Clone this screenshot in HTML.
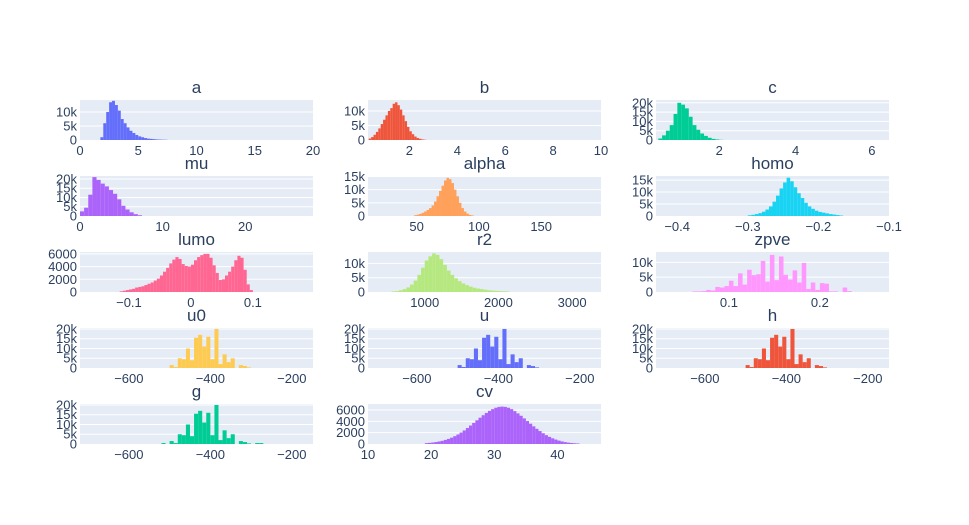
<!DOCTYPE html>
<html><head><meta charset="utf-8">
<style>
html,body{margin:0;padding:0;background:#fff;}
svg{display:block;font-family:"Liberation Sans","DejaVu Sans",sans-serif;}
</style></head>
<body>
<svg id="chart" width="969" height="525" viewBox="0 0 969 525" xmlns="http://www.w3.org/2000/svg"></svg>
<script>
// ---- data (one small array set per subplot) ----
const titles = ["a","b","c","mu","alpha","homo","lumo","r2","zpve","u0","u","h","g","cv"];
const colors = ["#636efa","#EF553B","#00cc96","#ab63fa","#FFA15A","#19d3f3","#FF6692","#B6E880","#FF97FF","#FECB52","#636efa","#EF553B","#00cc96","#ab63fa"];
const binStarts = [1.75,0.3,0.4,0,48,-0.3,-0.115,550,0.06,-500,-500,-500,-520,19];
const binWidths = [0.25,0.1,0.1,0.5,2,0.005,0.005,50,0.005,10,10,10,10,0.5];
const xRanges = [[0,20],[0.27,10],[0.34,6.45],[0,28.2],[11,198],[-0.43,-0.1],[-0.179,0.197],[230,3392],[0.0198,0.276],[-720,-148],[-720,-148],[-720,-148],[-720,-148],[10,46.9]];
const yMaxes = [14300,13800,21500,21600,15200,16700,6300,14000,13500,20500,20500,20500,20500,7060];
const xTicks = [[0,5,10,15,20],[2,4,6,8,10],[2,4,6],[0,10,20],[50,100,150],[-0.4,-0.3,-0.2,-0.1],[-0.1,0,0.1],[1000,2000,3000],[0.1,0.2],[-600,-400,-200],[-600,-400,-200],[-600,-400,-200],[-600,-400,-200],[10,20,30,40]];
const xTickLabels = [["0","5","10","15","20"],["2","4","6","8","10"],["2","4","6"],["0","10","20"],["50","100","150"],["−0.4","−0.3","−0.2","−0.1"],["−0.1","0","0.1"],["1000","2000","3000"],["0.1","0.2"],["−600","−400","−200"],["−600","−400","−200"],["−600","−400","−200"],["−600","−400","−200"],["10","20","30","40"]];
const yTicks5k = [0,5000,10000];
const yTicks20k = [0,5000,10000,15000,20000];
const yTicks15k = [0,5000,10000,15000];
const yTicks6000 = [0,2000,4000,6000];
const yTickSets = [yTicks5k,yTicks5k,yTicks20k,yTicks20k,yTicks15k,yTicks15k,yTicks6000,yTicks5k,yTicks5k,yTicks20k,yTicks20k,yTicks20k,yTicks20k,yTicks6000];

const countsA = [1000,6000,10000,13500,14000,12500,10500,7500,6000,4500,3300,2500,1800,1300,1000,700,500,400,300,200,150,100,80];
const countsB = [500,1000,1800,2800,4000,5500,7000,8500,10000,11000,12500,13000,12000,10500,8500,6500,4500,3000,2000,1200,700,400,200,100];
const countsC = [800,2500,5000,8000,14000,20000,19000,17000,12500,8000,5500,3500,2200,1200,600,300,100];
const countsMu = [2500,4500,11500,21000,19500,17500,16000,14000,12000,9000,5500,3500,2000,1000,400];
const countsAlpha = [300,500,800,1200,1700,2300,3000,4000,5500,7500,9500,11500,13500,14500,14000,12500,10000,7500,5000,3000,1700,900,400,200];
const countsHomo = [300,500,800,1200,1800,2700,4000,6000,8500,11500,14000,16000,14500,12000,9500,7500,5500,4000,3000,2200,1700,1400,1100,800,600,400,200];
const countsLumo = [100,200,300,400,500,700,800,900,1100,1300,1500,1800,2100,2600,3200,3800,4500,5100,5500,5200,4400,4100,4000,4300,5000,5500,5800,6000,6000,5400,4200,3000,1900,2000,2600,3200,4000,5000,5700,5400,3500,1200,300];
const countsR2 = [200,300,600,1000,1600,2600,4000,6000,8500,11000,12500,13500,13000,11500,9500,7500,6000,4800,3800,3000,2400,1900,1500,1200,1000,800,600,500,400,300,250,200];
const countsZpve = [200,200,300,700,500,1700,1500,2000,3800,2000,6300,2500,7500,5700,6000,10500,3500,12500,4000,12000,5800,4200,7300,3200,9800,1000,3200,700,3000,2800,200,200,0,1500,300];
const countsU0 = [1500,500,5000,4500,10000,4000,15500,17000,11000,16000,4500,20000,2000,7000,3000,5000,0,1500,1000,300];
const countsU = [1500,500,5000,4500,10000,4000,15500,17000,11000,16000,4500,20000,2000,7000,3000,5000,0,1500,1000,300];
const countsH = [1500,500,5000,4500,10000,4000,15500,17000,11000,16000,4500,20000,2000,7000,3000,5000,0,1500,1000,300];
const countsG = [500,0,1500,500,5000,4500,10000,4000,15500,17000,11000,16000,4500,20000,2000,7000,3000,5000,0,1500,1000,300,0,500,500];
const countsCv = [150,200,260,340,440,560,720,900,1120,1380,1680,2020,2400,2820,3260,3720,4180,4640,5080,5480,5850,6150,6400,6550,6600,6550,6400,6150,5800,5400,4980,4520,4050,3580,3120,2680,2280,1900,1560,1260,1000,780,600,450,330,240,180,130,90];
const allCounts = [countsA,countsB,countsC,countsMu,countsAlpha,countsHomo,countsLumo,countsR2,countsZpve,countsU0,countsU,countsH,countsG,countsCv];

// ---- layout ----
const colX = [80,368,656], plotW = 233;
const rowY = [100,176,252,328,404], plotH = 40;
const NS = "http://www.w3.org/2000/svg";
const svg = document.getElementById('chart');
function mk(tag, attrs, parent){const e=document.createElementNS(NS,tag);for(const k in attrs)e.setAttribute(k,attrs[k]);(parent||svg).appendChild(e);return e;}

titles.forEach((t,i)=>{
  const x0=colX[i%3], y0=rowY[Math.floor(i/3)];
  const [xa,xb]=xRanges[i], ym=yMaxes[i];
  const sx=v=>x0+(v-xa)/(xb-xa)*plotW;
  const sy=v=>y0+plotH-v/ym*plotH;
  const g=mk('g',{});
  
  
  const bg=mk('rect',{x:x0,y:y0,width:plotW,height:plotH,fill:'#E5ECF6'},g);
  
  
  const isSixK = yTickSets[i]===yTicks6000;
  yTickSets[i].forEach(v=>{
    if(v>0){const gl=mk('line',{x1:x0,x2:x0+plotW,y1:sy(v),y2:sy(v),stroke:'#fff','stroke-width':1},g);
      
      }
    const lb=mk('text',{x:x0-3,y:sy(v)+4.5,'text-anchor':'end','font-size':'13',fill:'#2a3f5f'},g);
    lb.textContent = isSixK ? String(v) : (v===0?"0":(v/1000)+"k");
    
    
  });
  const counts=allCounts[i], bs=binStarts[i], bw=binWidths[i];
  counts.forEach((c,k)=>{
    if(c<=0) return;
    const xl=sx(bs+k*bw), xr=sx(bs+(k+1)*bw);
    const r=mk('rect',{x:xl,y:sy(c),width:Math.max(0.5,xr-xl),height:y0+plotH-sy(c),fill:colors[i]},g);
    
    
  });
  xTicks[i].forEach((v,k)=>{
    const lb=mk('text',{x:sx(v),y:y0+plotH+15,'text-anchor':'middle','font-size':'13',fill:'#2a3f5f'},g);
    lb.textContent=xTickLabels[i][k];
    
    
  });
  const tt=mk('text',{x:x0+plotW/2,y:y0-7,'text-anchor':'middle','font-size':'17',fill:'#2a3f5f'},g);
  tt.textContent=t;
  
  
});
</script>
</body></html>
